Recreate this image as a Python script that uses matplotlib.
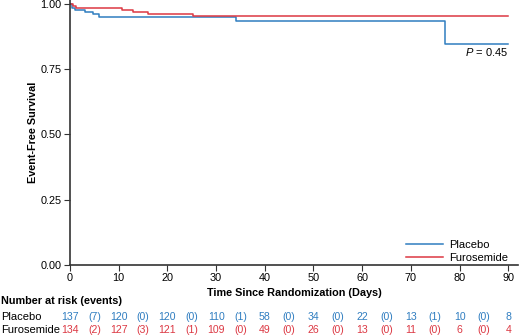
import numpy as np
import matplotlib.pyplot as plt

plt.rcParams['font.family'] = ['Liberation Sans', 'DejaVu Sans']
plt.rcParams['mathtext.fontset'] = 'custom'
plt.rcParams['mathtext.it'] = 'Liberation Sans:italic'
plt.rcParams['mathtext.rm'] = 'Liberation Sans'

# the data
placebo_t = [0, 0.4, 1.0, 3.0, 4.8, 6.0, 34.1, 77.0, 90]
placebo_s = [1.0, 0.986, 0.978, 0.970, 0.963, 0.949, 0.936, 0.848, 0.848]
furo_t = [0, 0.7, 1.2, 10.6, 13.0, 16.0, 25.2, 90]
furo_s = [1.0, 0.993, 0.985, 0.978, 0.970, 0.962, 0.955, 0.955]

risk_days = [0, 10, 20, 30, 40, 50, 60, 70, 80, 90]
placebo_risk = [137, 120, 120, 110, 58, 34, 22, 13, 10, 8]
placebo_events = [7, 0, 0, 1, 0, 0, 0, 1, 0]
furo_risk = [134, 127, 121, 109, 49, 26, 13, 11, 6, 4]
furo_events = [2, 3, 1, 0, 0, 0, 0, 0, 0]

blue = '#2f7dc0'
red = '#dc3843'

fig = plt.figure(figsize=(5.2, 3.36), dpi=100)
ax = fig.add_axes([70/520, 1 - 265/336, 448/520, 265/336])

ax.step(placebo_t, placebo_s, where='post', color=blue, lw=1.1, label='Placebo')
ax.step(furo_t, furo_s, where='post', color=red, lw=1.1, label='Furosemide')

ax.set_xlim(0, 92)
ax.set_ylim(0, 1.015)
ax.set_xticks(risk_days)
ax.set_yticks([0, 0.25, 0.5, 0.75, 1.0])
ax.set_yticklabels(['0.00', '0.25', '0.50', '0.75', '1.00'])
ax.tick_params(labelsize=7.8, length=4, width=0.8, color='#333333', pad=2)
for s in ['top', 'right']:
    ax.spines[s].set_visible(False)
for s in ['left', 'bottom']:
    ax.spines[s].set_linewidth(1.2)
    ax.spines[s].set_color('#333333')

ax.set_ylabel('Event-Free Survival', fontsize=7.8, fontweight='bold', labelpad=1.5)
ax.set_xlabel('Time Since Randomization (Days)', fontsize=7.8, fontweight='bold', labelpad=3)

ax.text(90, 0.838, '$P$ = 0.45', ha='right', va='top', fontsize=8)
ax.legend(loc='lower right', bbox_to_anchor=(1.0, -0.03), frameon=False,
          fontsize=8, handlelength=3.4, handletextpad=0.5, labelspacing=0.3)

# number at risk table
tr = ax.get_xaxis_transform()
fig.text(0.002, 1 - 301/336, 'Number at risk (events)', fontsize=7.8,
         fontweight='bold', va='center')
rows = [('Placebo', placebo_risk, placebo_events, blue, 317),
        ('Furosemide', furo_risk, furo_events, red, 330)]
for name, risk, ev, col, ypx in rows:
    yy = -(ypx - 265) / 265
    fig.text(0.002, 1 - ypx/336, name, fontsize=8, va='center')
    for d, n in zip(risk_days, risk):
        ax.text(d, yy, str(n), transform=tr, ha='center', va='center',
                fontsize=7.6, color=col, clip_on=False)
    for i, e in enumerate(ev):
        ax.text(risk_days[i] + 5, yy, '(%d)' % e, transform=tr, ha='center',
                va='center', fontsize=7.6, color=col, clip_on=False)

fig.savefig('out.png', dpi=100)
